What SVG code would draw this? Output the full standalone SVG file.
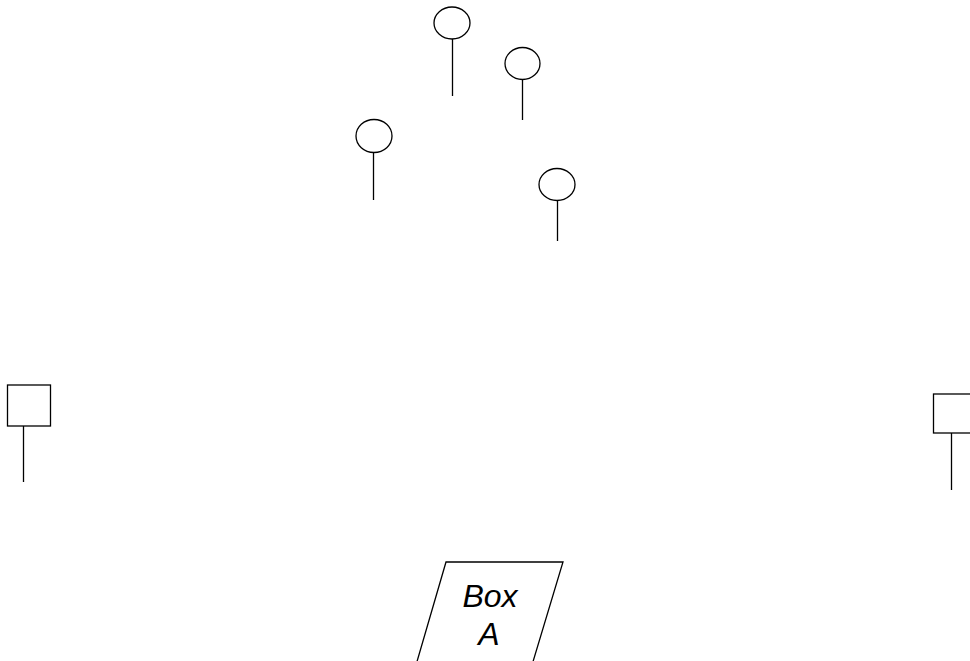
<svg xmlns="http://www.w3.org/2000/svg" width="970" height="661" viewBox="0 0 970 661">
<style>
.s{fill:none;stroke:#000;stroke-width:1.3}
.t{font-family:"Liberation Sans",Arial,sans-serif;font-style:italic;font-size:32px;fill:#000;text-anchor:middle}
</style>
<rect width="970" height="661" fill="#fff"/>
<g id="connectors">
<line class="s" x1="452.5" y1="39" x2="452.5" y2="96"/>
<line class="s" x1="522.5" y1="79.5" x2="522.5" y2="120"/>
<line class="s" x1="373.5" y1="152.5" x2="373.5" y2="200"/>
<line class="s" x1="557.5" y1="200.5" x2="557.5" y2="241"/>
<line class="s" x1="23.5" y1="426" x2="23.5" y2="482"/>
<line class="s" x1="951.5" y1="433" x2="951.5" y2="490"/>
</g>
<g id="pin1"><ellipse class="s" cx="452" cy="23" rx="18" ry="16"/></g>
<g id="pin2"><ellipse class="s" cx="522.5" cy="63.5" rx="17.5" ry="16"/></g>
<g id="pin3"><ellipse class="s" cx="374" cy="136" rx="18" ry="16.5"/></g>
<g id="pin4"><ellipse class="s" cx="557" cy="184.5" rx="18" ry="16"/></g>
<g id="sq1"><rect class="s" x="7.5" y="385" width="43" height="41"/></g>
<g id="sq2"><rect class="s" x="933.5" y="394" width="44" height="39"/></g>
<g id="boxA">
<polygon class="s" points="446,562 563,562 532,665 416,665"/>
<text class="t" x="490" y="607">Box</text>
<text class="t" x="489" y="645">A</text>
</g>
</svg>
